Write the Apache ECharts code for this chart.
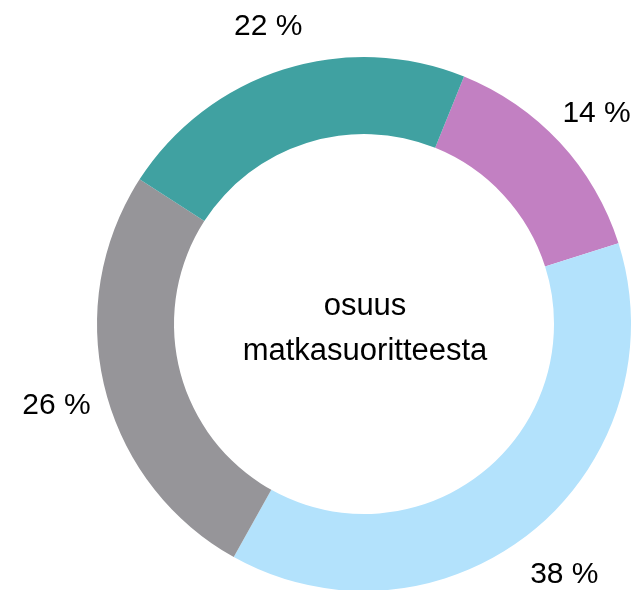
<!DOCTYPE html>
<html>
<head>
<meta charset="utf-8">
<script src="https://cdn.jsdelivr.net/npm/echarts@6/dist/echarts.min.js"></script>
<style>
  html, body { margin: 0; padding: 0; background: #fff; }
  #chart { width: 636px; height: 590px; }
</style>
</head>
<body>
<div id="chart"></div>
<script>
// osuudet myötäpäivään alkaen ylhäältä oikealta
const names = ['a', 'b', 'c', 'd'];
const values = [14, 38, 26, 22];
const colors = ['#C280C2', '#B3E2FC', '#969599', '#40A1A1'];
const centerText = ['osuus', 'matkasuoritteesta'];

const font = '"Liberation Sans", Arial, sans-serif';
const pieData = names.map((n, i) => ({ name: n, value: values[i] }));

const myChart = echarts.init(document.getElementById('chart'));
myChart.setOption({
  animation: false,
  graphic: [
    {
      type: 'text',
      x: 365,
      y: 329,
      style: {
        text: centerText.join('\n'),
        font: '31px ' + font,
        fill: '#000',
        align: 'center',
        verticalAlign: 'middle',
        lineHeight: 45
      }
    }
  ],
  series: [
    {
      type: 'pie',
      center: [364, 324],
      radius: [190, 267],
      startAngle: 68,
      clockwise: true,
      silent: true,
      label: { show: false },
      labelLine: { show: false },
      itemStyle: {
        color: (p) => colors[p.dataIndex]
      },
      data: pieData
    },
    {
      // näkymätön rengas prosenttitekstien sijoittamiseen
      type: 'pie',
      center: [364, 329],
      radius: [288, 340],
      startAngle: 68,
      clockwise: true,
      silent: true,
      itemStyle: { color: 'rgba(0,0,0,0)' },
      label: {
        show: true,
        position: 'inside',
        formatter: (p) => p.value + ' %',
        color: '#000',
        fontSize: 30,
        fontFamily: font
      },
      labelLine: { show: false },
      data: pieData
    }
  ]
});
</script>
</body>
</html>
